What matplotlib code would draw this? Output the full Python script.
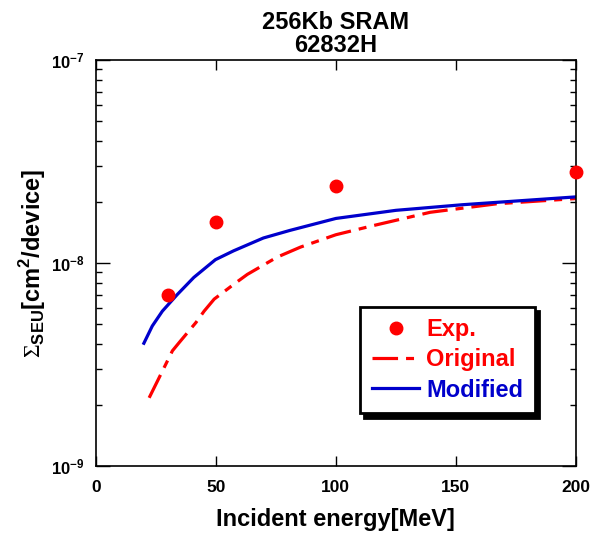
import matplotlib
matplotlib.use("Agg")
import matplotlib.pyplot as plt
import numpy as np

plt.rcParams['font.family'] = ['Liberation Sans', 'DejaVu Sans']
plt.rcParams['mathtext.fontset'] = 'custom'
plt.rcParams['mathtext.rm'] = 'Liberation Sans:bold'
plt.rcParams['mathtext.bf'] = 'Liberation Sans:bold'
plt.rcParams['mathtext.cal'] = 'Liberation Serif'

exp_e = [30, 50, 100, 200]
exp_s = [7.0e-9, 1.6e-8, 2.4e-8, 2.8e-8]

orig_e = [22.2, 25.7, 31.9, 34.7, 41.7, 45.1, 49.3, 58.3, 63.1, 75.5, 85.3, 100, 115.5, 139.3, 167, 200]
orig_s = [2.17e-9, 2.63e-9, 3.7e-9, 4.06e-9, 5.1e-9, 5.8e-9, 6.65e-9, 8.0e-9, 8.8e-9, 1.07e-8, 1.2e-8,
          1.38e-8, 1.53e-8, 1.78e-8, 1.96e-8, 2.08e-8]

mod_e = [20.0, 23.5, 27.7, 33.9, 40.8, 49.8, 57.4, 69.8, 80.9, 100, 125, 152.8, 200]
mod_s = [4.03e-9, 4.9e-9, 5.8e-9, 7.0e-9, 8.5e-9, 1.04e-8, 1.15e-8, 1.33e-8, 1.45e-8, 1.66e-8,
         1.82e-8, 1.94e-8, 2.12e-8]

xticks = [0, 50, 100, 150, 200]

fig = plt.figure(figsize=(6.03, 5.37), dpi=100)
ax = fig.add_axes([0.159, 0.132, 0.796, 0.756])

ax.plot(exp_e, exp_s, 'o', color='#ff0000', markersize=9, label='Exp.', clip_on=False, zorder=5)
ax.plot(orig_e, orig_s, color='#ff0000', lw=2.3, dashes=(8, 2.5, 2.5, 2.5), label='Original')
ax.plot(mod_e, mod_s, color='#0000cc', lw=2.3, label='Modified')

ax.set_yscale('log')
ax.set_xlim(0, 200)
ax.set_ylim(1e-9, 1e-7)
ax.set_xticks(xticks)
ax.set_xticklabels([str(t) for t in xticks], fontweight='bold', fontsize=12.5)
ax.set_yticks([1e-9, 1e-8, 1e-7])
ax.set_yticklabels([r'$\mathbf{10^{-9}}$', r'$\mathbf{10^{-8}}$', r'$\mathbf{10^{-7}}$'], fontsize=12)
ax.tick_params(which='both', direction='in', top=True, right=True)
ax.tick_params(which='major', length=7, width=1)
ax.tick_params(axis='x', which='major', pad=10)
ax.tick_params(axis='y', which='major', pad=8, length=10)
ax.tick_params(which='minor', length=4, width=1)
for s in ax.spines.values():
    s.set_linewidth(1.2)

ax.set_xlabel('Incident energy[MeV]', fontsize=17, fontweight='bold', labelpad=9)
ax.set_ylabel(r'$\mathcal{Σ}_{\mathrm{SEU}}$[cm$^{2}$/device]', fontsize=17, fontweight='bold', labelpad=2)
ax.set_title('256Kb SRAM\n62832H', fontsize=17, fontweight='bold', pad=6, linespacing=1.0)

leg = ax.legend(loc='lower right', bbox_to_anchor=(0.915, 0.13), borderaxespad=0,
                frameon=True, fancybox=False, shadow={'color': 'black', 'alpha': 1.0, 'ox': 3, 'oy': -3},
                edgecolor='black', handlelength=2.0, handletextpad=0.3, borderpad=0.5,
                labelspacing=0.3, prop={'weight': 'bold', 'size': 17})
leg.get_frame().set_linewidth(2)
for txt, c in zip(leg.get_texts(), ['#ff0000', '#ff0000', '#0000cc']):
    txt.set_color(c)

fig.savefig('out.png', dpi=100)
